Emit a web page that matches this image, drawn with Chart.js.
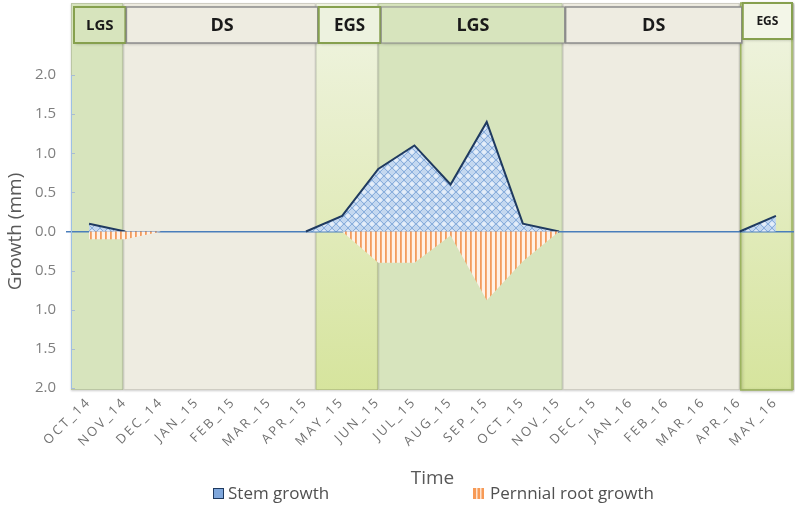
<!DOCTYPE html>
<html>
<head>
<meta charset="utf-8">
<script src="https://cdn.jsdelivr.net/npm/chart.js@4.4.1/dist/chart.umd.min.js"></script>
<style>
  html, body { margin: 0; padding: 0; background: #fff; }
</style>
</head>
<body>
<canvas id="growthChart" width="795" height="507"></canvas>
<script>
// months along the x axis
const months = ['OCT_14', 'NOV_14', 'DEC_14', 'JAN_15', 'FEB_15', 'MAR_15', 'APR_15', 'MAY_15',
  'JUN_15', 'JUL_15', 'AUG_15', 'SEP_15', 'OCT_15', 'NOV_15', 'DEC_15', 'JAN_16', 'FEB_16',
  'MAR_16', 'APR_16', 'MAY_16'];

// growth in mm (root growth plotted below zero)
const stemGrowth = [0.1, 0, 0, 0, 0, 0, 0, 0.2, 0.8, 1.1, 0.6, 1.4, 0.1, 0, 0, 0, 0, 0, 0, 0.2];
const rootGrowth = [-0.1, -0.1, 0, 0, 0, 0, 0, 0, -0.4, -0.4, -0.05, -0.88, -0.38, 0, 0, 0, 0, 0, 0, 0];

// seasons, in month index units
const seasonNames = ['LGS', 'DS', 'EGS', 'LGS', 'DS', 'EGS'];
const seasonStart = [-0.5, 0.95, 6.27, 8, 13.1, 18];
const seasonEnd = [0.95, 6.27, 8, 13.1, 18, 19.5];

const yTickValues = [-2, -1.5, -1, -0.5, 0, 0.5, 1, 1.5, 2];

Chart.defaults.font.family = "'Open Sans', sans-serif";

function makePattern(w, h, paint) {
  const c = document.createElement('canvas');
  c.width = w;
  c.height = h;
  const g = c.getContext('2d');
  paint(g, w, h);
  return g.createPattern(c, 'repeat');
}

const stemPattern = makePattern(8, 8, (g, w, h) => {
  g.fillStyle = '#c4d8f0';
  g.fillRect(0, 0, w, h);
  g.fillStyle = '#e6eef9';
  g.beginPath();
  g.arc(4, 0, 2, 0, Math.PI * 2);
  g.arc(4, 8, 2, 0, Math.PI * 2);
  g.fill();
  g.strokeStyle = '#8aaedc';
  g.lineWidth = 1;
  g.beginPath();
  g.moveTo(0, 0); g.lineTo(w, h);
  g.moveTo(w, 0); g.lineTo(0, h);
  g.stroke();
});

const rootPattern = makePattern(5, 4, (g, w, h) => {
  g.fillStyle = '#fff1e6';
  g.fillRect(0, 0, w, h);
  g.fillStyle = '#f39c5e';
  g.fillRect(0, 0, 1.8, h);
});

const headerStyles = [
  { border: '#86a04e', lw: 2, size: 15, fill: '#d7e4bd' },
  { border: '#8c8c8c', lw: 1.5, size: 18, fill: '#eeece1' },
  { border: '#86a04e', lw: 2, size: 17, fill: '#edf2df' },
  { border: '#8c8c8c', lw: 1, size: 18, fill: '#d7e4bd' },
  { border: '#8c8c8c', lw: 1.5, size: 18, fill: '#eeece1' },
  { border: '#86a04e', lw: 2, size: 12, fill: '#f3f6e8' }
];

const seasonPlugin = {
  id: 'seasons',
  beforeDraw(chart) {
    const { ctx, chartArea, scales: { x } } = chart;
    const top = 3;
    const bottom = chartArea.bottom + 2;
    ctx.save();
    seasonNames.forEach((name, i) => {
      const x0 = x.getPixelForValue(seasonStart[i]);
      const x1 = x.getPixelForValue(seasonEnd[i]);
      let fill;
      if (name === 'EGS') {
        fill = ctx.createLinearGradient(0, top, 0, bottom);
        fill.addColorStop(0, '#f0f4e2');
        fill.addColorStop(1, '#d6e49d');
      } else if (name === 'LGS') {
        fill = '#d7e4bd';
      } else {
        fill = '#eeece1';
      }
      ctx.save();
      ctx.shadowColor = 'rgba(0,0,0,0.2)';
      ctx.shadowBlur = 2;
      ctx.shadowOffsetY = 1;
      ctx.fillStyle = fill;
      ctx.fillRect(x0, top, x1 - x0, bottom - top);
      ctx.restore();
      ctx.strokeStyle = 'rgba(0,0,0,0.13)';
      ctx.lineWidth = 1;
      ctx.strokeRect(x0 + 0.5, top + 0.5, x1 - x0 - 1, bottom - top - 1);
      if (i === seasonNames.length - 1) {
        ctx.save();
        ctx.shadowColor = 'rgba(0,0,0,0.25)';
        ctx.shadowBlur = 3;
        ctx.shadowOffsetX = 1;
        ctx.shadowOffsetY = 1;
        ctx.strokeStyle = '#9cb35e';
        ctx.lineWidth = 1.5;
        ctx.strokeRect(x0 + 1, top, x1 - x0 - 3, bottom - top);
        ctx.restore();
      }
    });

    // season header boxes
    seasonNames.forEach((name, i) => {
      const st = headerStyles[i];
      const last = i === seasonNames.length - 1;
      const bx0 = x.getPixelForValue(seasonStart[i]) + 3;
      const bx1 = last ? x.getPixelForValue(seasonEnd[i]) - 2 : x.getPixelForValue(seasonEnd[i]) + 2;
      const by = last ? 3 : 7;
      const bh = 36;
      ctx.save();
      ctx.shadowColor = 'rgba(0,0,0,0.25)';
      ctx.shadowBlur = 3;
      ctx.shadowOffsetX = 1;
      ctx.shadowOffsetY = 1;
      ctx.fillStyle = st.fill;
      ctx.fillRect(bx0, by, bx1 - bx0, bh);
      ctx.restore();
      ctx.strokeStyle = st.border;
      ctx.lineWidth = st.lw;
      ctx.strokeRect(bx0, by, bx1 - bx0, bh);
      ctx.fillStyle = '#1a1a1a';
      ctx.font = 'bold ' + st.size + "px 'Open Sans', sans-serif";
      ctx.textAlign = 'center';
      ctx.textBaseline = 'middle';
      ctx.fillText(name, (bx0 + bx1) / 2, by + bh / 2 + 1);
    });
    ctx.restore();
  },
  beforeDatasetsDraw(chart) {
    const { ctx, chartArea, scales: { y } } = chart;
    ctx.save();
    ctx.strokeStyle = '#a9bdd3';
    ctx.lineWidth = 1;
    y.ticks.forEach((t, i) => {
      if (t.value === 0) return;
      const py = Math.round(y.getPixelForTick(i)) + 0.5;
      ctx.beginPath();
      ctx.moveTo(chartArea.left, py);
      ctx.lineTo(chartArea.left + 4, py);
      ctx.stroke();
    });
    ctx.restore();
  }
};

// letter spaced month labels
const spacedTicks = {
  id: 'spacedTicks',
  beforeDraw(chart) {
    const sc = chart.scales.x;
    if (sc._spaced) return;
    const orig = sc.drawLabels;
    sc.drawLabels = function (area) {
      const c = this.ctx;
      c.save();
      c.letterSpacing = '2.5px';
      orig.call(this, area);
      c.restore();
    };
    sc._spaced = true;
  }
};

const legendPlugin = {
  id: 'bottomLegend',
  afterDraw(chart) {
    const { ctx } = chart;
    const ly = 494;
    ctx.save();
    // stem growth
    ctx.fillStyle = '#7fa7dc';
    ctx.fillRect(213, ly - 6, 11, 11);
    ctx.strokeStyle = '#1f3a60';
    ctx.lineWidth = 1;
    ctx.strokeRect(213.5, ly - 5.5, 10, 10);
    // root growth
    ctx.fillStyle = '#f79a56';
    ctx.fillRect(473, ly - 6, 11, 11);
    ctx.fillStyle = '#fde3cf';
    ctx.fillRect(476, ly - 6, 1.5, 11);
    ctx.fillRect(480, ly - 6, 1.5, 11);

    ctx.fillStyle = '#505050';
    ctx.font = "17px 'Open Sans', sans-serif";
    ctx.textAlign = 'left';
    ctx.textBaseline = 'middle';
    ctx.fillText('Stem growth', 228, ly);
    ctx.fillText('Pernnial root growth', 490, ly);
    ctx.restore();
  }
};

new Chart(document.getElementById('growthChart'), {
  type: 'line',
  data: {
    labels: months,
    datasets: [
      {
        label: 'Pernnial root growth',
        data: rootGrowth,
        borderWidth: 0,
        borderColor: 'rgba(0,0,0,0)',
        backgroundColor: rootPattern,
        fill: 'origin',
        pointRadius: 0,
        tension: 0
      },
      {
        label: 'Stem growth',
        data: stemGrowth,
        borderColor: '#1f3a60',
        borderWidth: 2,
        backgroundColor: stemPattern,
        fill: 'origin',
        pointRadius: 0,
        tension: 0,
        segment: {
          borderColor: c => (c.p0.parsed.y === 0 && c.p1.parsed.y === 0) ? 'rgba(0,0,0,0)' : undefined
        }
      }
    ]
  },
  options: {
    responsive: false,
    animation: false,
    layout: { padding: { top: 75, right: 1, bottom: 17, left: 0 } },
    plugins: {
      legend: { display: false },
      tooltip: { enabled: false }
    },
    scales: {
      x: {
        offset: true,
        grid: { display: false, drawTicks: false },
        border: { display: false },
        ticks: {
          autoSkip: false,
          maxRotation: 45,
          minRotation: 45,
          color: '#707070',
          font: { size: 13 },
          padding: 6
        },
        title: {
          display: true,
          text: 'Time',
          color: '#595959',
          font: { size: 19 },
          padding: { top: 0, bottom: 0 }
        },
        afterFit: s => { s.height = 102; }
      },
      y: {
        min: -2,
        max: 2,
        afterBuildTicks: s => { s.ticks = yTickValues.map(v => ({ value: v })); },
        grid: {
          color: c => (c.tick && c.tick.value === 0) ? '#4a7ebb' : 'rgba(0,0,0,0)',
          lineWidth: 1.5,
          tickLength: 5
        },
        border: { color: '#9cc0e6', width: 1 },
        ticks: {
          color: '#7f7f7f',
          font: { size: 15 },
          padding: 10,
          callback: v => Math.abs(v).toFixed(1)
        },
        title: {
          display: true,
          text: 'Growth (mm)',
          color: '#595959',
          font: { size: 19 },
          padding: { top: 4, bottom: 0 }
        },
        afterFit: s => { s.width = 71; }
      }
    }
  },
  plugins: [seasonPlugin, spacedTicks, legendPlugin]
});
</script>
</body>
</html>
